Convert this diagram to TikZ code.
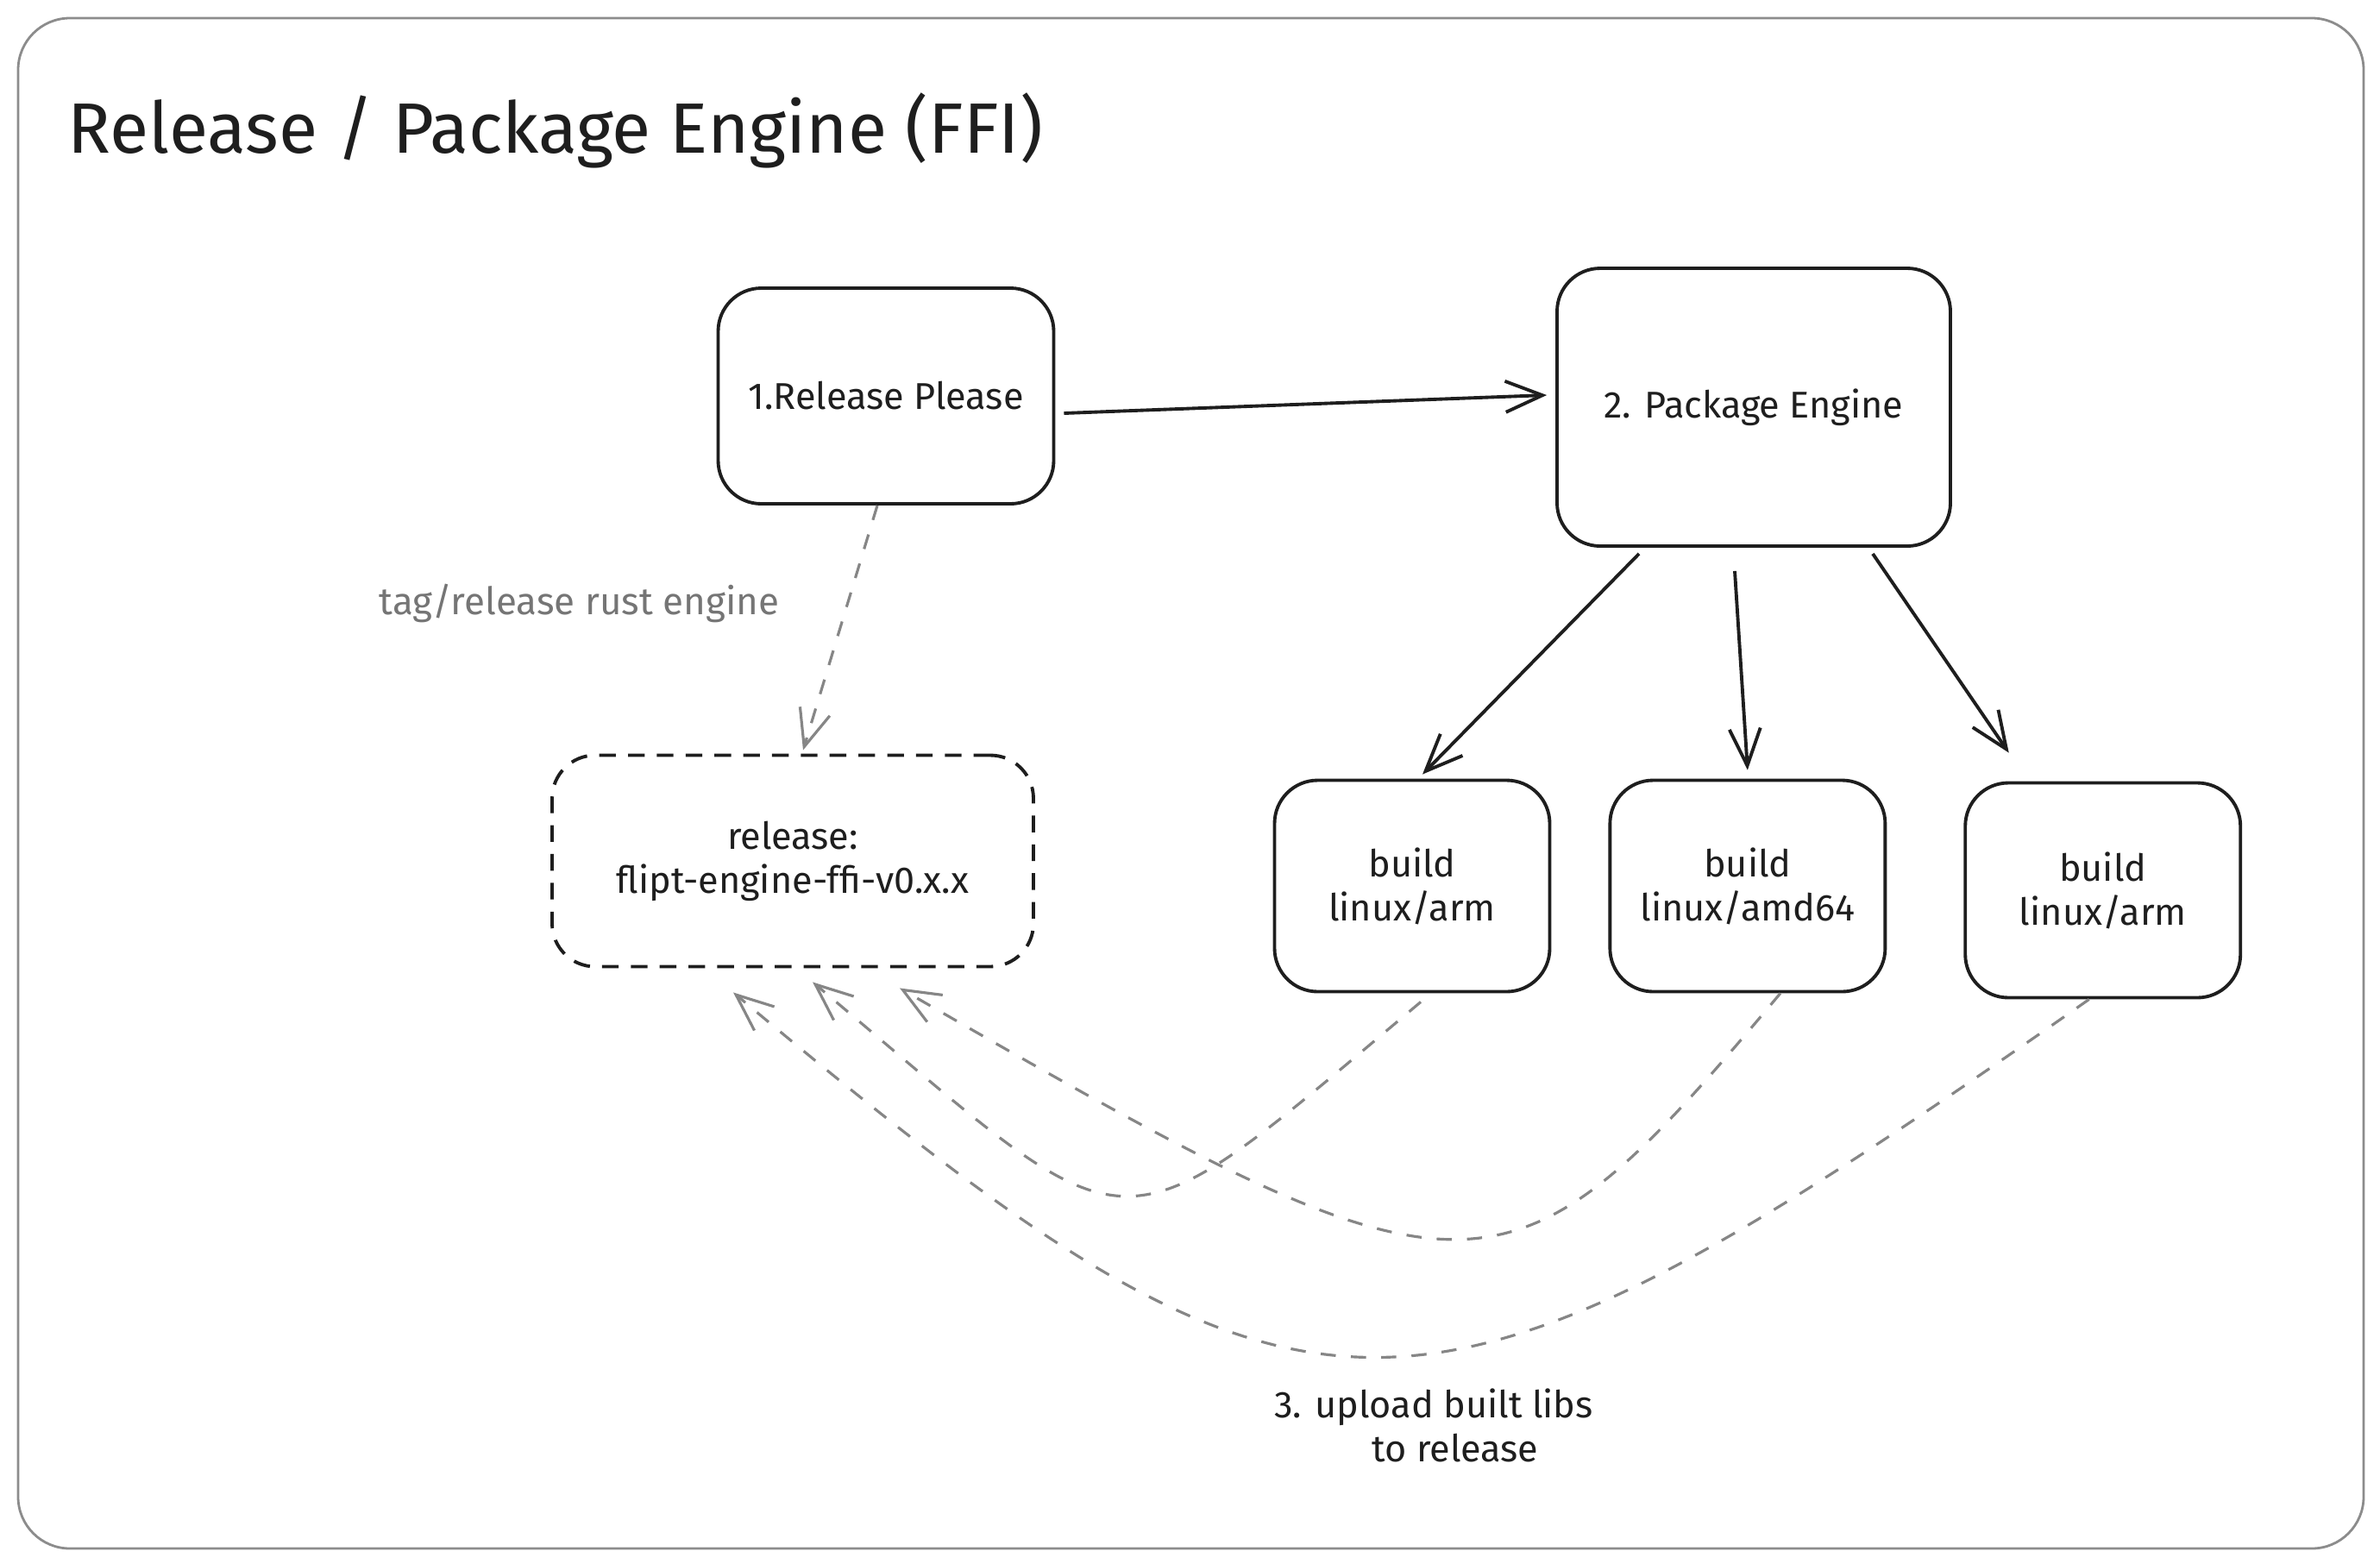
\documentclass[tikz,border=0pt]{standalone}
\usepackage{fontspec}
\setmainfont{Fira Sans}
\usetikzlibrary{arrows.meta,topaths,calc,positioning}
\definecolor{ink}{HTML}{1E1E1E}
\definecolor{dashgray}{HTML}{868686}
\definecolor{notegray}{HTML}{757575}
\definecolor{framegray}{HTML}{8C8C8C}

\begin{document}
\begin{tikzpicture}[>={Straight Barb[length=4.3mm,width=3.6mm]}, line width=1.1pt, color=ink,
    box/.style={draw=ink, rounded corners=5mm, align=center, inner sep=0pt,
                font=\fontsize{12.3}{14.5}\selectfont},
    build/.style={box, minimum width=3.19cm, minimum height=2.45cm},
    relbox/.style={box, dash pattern=on 5.5pt off 4pt},
    upload/.style={draw=dashgray, line width=0.9pt, dash pattern=on 5pt off 5pt}]

  \useasboundingbox (0,0) rectangle (27.59,-18.12);
  \draw[framegray, line width=0.8pt, rounded corners=6mm] (0.21,-0.21) rectangle (27.40,-17.95);

  \node[anchor=base west, inner sep=0pt, font=\fontsize{23.5}{28}\selectfont] (title) at (0.77,-1.77) {Release / Package Engine (FFI)};

  \node[box, minimum width=3.89cm, minimum height=2.50cm]    (please)  at (10.27,-4.59)  {1.Release Please};
  \node[box, minimum width=4.56cm, minimum height=3.22cm]    (package) at (20.33,-4.72)  {2. Package Engine};
  \node[relbox, minimum width=5.58cm, minimum height=2.45cm] (release) at (9.19,-9.98)   {release:\\flipt-engine-ffi-v0.x.x};
  \node[build]                      (arm1)    at (16.37,-10.27) {build\\linux/arm};
  \node[build]                      (amd)     [right=6.6mm of arm1]  {build\\linux/amd64};
  \node[build, minimum height=2.49cm] (arm2)  [right=8.9mm of amd, yshift=-0.5mm] {build\\linux/arm};

  \node[align=center, font=\fontsize{12.3}{14.5}\selectfont] (note) at (16.62,-16.52) {3. upload built libs\\\hspace*{0.5cm}to release};

  \path[->]  ([xshift=1mm,yshift=-2mm]please.east)        edge  ([xshift=-1mm,yshift=1.4mm]package.west)
             ([xshift=-13.3mm,yshift=-0.7mm]package.south) edge  ([xshift=1.2mm,yshift=0.5mm]arm1.north)
             ([xshift=-2.2mm,yshift=-2.7mm]package.south)  edge  ([yshift=1mm]amd.north)
             ([xshift=13.8mm,yshift=-0.7mm]package.south)  edge  ([xshift=-10.9mm,yshift=3.3mm]arm2.north);

  \path[->]  ([xshift=-1mm]please.south) edge [upload]
                 node [pos=0.4, anchor=east, xshift=-6.6mm, text=notegray, font=\fontsize{12.5}{15}\selectfont] {tag/release rust engine}
             ([xshift=1.2mm,yshift=0.4mm]release.north)
             ([xshift=1mm,yshift=-1mm]arm1.south)  edge [upload, out=-140, in=-40, out distance=4.8cm, in distance=5cm]   ([xshift=2.3mm,yshift=-1.6mm]release.south)
             ([xshift=3.8mm]amd.south)             edge [upload, out=-130, in=-30, out distance=5cm, in distance=7.7cm]   ([xshift=12.4mm,yshift=-2.3mm]release.south)
             ([xshift=-1.6mm]arm2.south)           edge [upload, out=-145, in=-40, out distance=9.6cm, in distance=8.8cm] ([xshift=-6.9mm,yshift=-2.8mm]release.south);
\end{tikzpicture}
\end{document}
